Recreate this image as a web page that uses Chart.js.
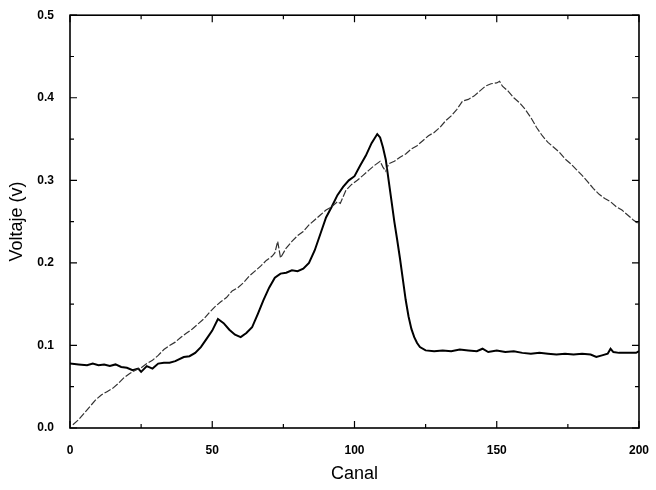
<!DOCTYPE html>
<html>
<head>
<meta charset="utf-8">
<script src="https://cdn.jsdelivr.net/npm/chart.js@4/dist/chart.umd.min.js"></script>
<style>
  html, body { margin: 0; padding: 0; background: #fff; }
  #wrap { width: 656px; height: 490px; }
</style>
</head>
<body>
<div id="wrap"><canvas id="chart-canal"></canvas></div>
<script>
// Pulse signal (thick trace)
var signalCanal = [0, 3, 6, 8, 10, 12, 14, 16, 18, 20, 22, 24, 25, 27, 29, 31, 33, 35, 37, 40,
  42, 44, 46, 48, 50, 52, 54, 56, 58, 60, 62, 64, 66, 68, 70, 72, 74, 76, 78, 80,
  82, 84, 86, 88, 90, 92, 94, 96, 98, 100, 102, 104, 106, 108, 109, 110, 111, 112, 113, 114,
  115, 116, 117, 118, 119, 120, 121, 122, 123, 125, 128, 131, 134, 137, 140, 143, 145, 147, 150, 153,
  156, 159, 162, 165, 168, 171, 174, 177, 180, 183, 185, 187, 189, 190, 191, 193, 196, 199, 200];
var signalVolt = [0.078, 0.077, 0.076, 0.078, 0.076, 0.077, 0.075, 0.077, 0.074, 0.073, 0.070, 0.072, 0.068, 0.075, 0.072, 0.078, 0.079, 0.079, 0.081, 0.086,
  0.087, 0.091, 0.098, 0.108, 0.118, 0.132, 0.127, 0.119, 0.113, 0.110, 0.115, 0.122, 0.138, 0.155, 0.170, 0.182, 0.187, 0.188, 0.191, 0.190,
  0.193, 0.200, 0.215, 0.235, 0.255, 0.268, 0.282, 0.292, 0.300, 0.305, 0.318, 0.330, 0.345, 0.356, 0.352, 0.340, 0.325, 0.300, 0.275, 0.250,
  0.228, 0.205, 0.180, 0.155, 0.135, 0.120, 0.110, 0.103, 0.098, 0.094, 0.093, 0.094, 0.093, 0.095, 0.094, 0.093, 0.096, 0.092, 0.094, 0.092,
  0.093, 0.091, 0.090, 0.091, 0.090, 0.089, 0.090, 0.089, 0.090, 0.089, 0.086, 0.088, 0.090, 0.096, 0.092, 0.091, 0.091, 0.091, 0.093];

// Ramp reference (thin trace)
var rampCanal = [1, 3, 5, 7, 9, 11, 13, 15, 17, 19, 21, 23, 25, 27, 29, 31, 33, 35, 37, 39,
  41, 43, 45, 47, 49, 51, 53, 55, 57, 59, 61, 63, 65, 67, 69, 71, 72, 73, 74, 76,
  78, 80, 82, 84, 86, 88, 90, 92, 94, 95, 97, 99, 101, 103, 105, 107, 109, 110, 111, 112,
  114, 116, 118, 120, 122, 124, 126, 128, 130, 132, 134, 136, 138, 140, 142, 144, 146, 148, 150, 151,
  152, 154, 156, 158, 160, 162, 164, 166, 168, 170, 172, 174, 176, 178, 180, 182, 184, 186, 188, 190,
  192, 194, 196, 198, 200];
var rampVolt = [0.004, 0.010, 0.018, 0.026, 0.034, 0.040, 0.044, 0.048, 0.054, 0.061, 0.066, 0.070, 0.073, 0.078, 0.082, 0.088, 0.095, 0.100, 0.104, 0.110,
  0.115, 0.120, 0.126, 0.132, 0.140, 0.147, 0.153, 0.158, 0.166, 0.170, 0.176, 0.184, 0.190, 0.196, 0.203, 0.208, 0.212, 0.226, 0.206, 0.218,
  0.226, 0.233, 0.238, 0.246, 0.252, 0.258, 0.264, 0.268, 0.274, 0.272, 0.288, 0.295, 0.300, 0.306, 0.312, 0.318, 0.323, 0.316, 0.311, 0.320,
  0.323, 0.328, 0.332, 0.338, 0.342, 0.348, 0.354, 0.358, 0.364, 0.372, 0.378, 0.386, 0.396, 0.398, 0.402, 0.408, 0.414, 0.417, 0.418, 0.420,
  0.414, 0.408, 0.400, 0.394, 0.386, 0.376, 0.364, 0.354, 0.346, 0.340, 0.334, 0.326, 0.320, 0.313, 0.306, 0.298, 0.290, 0.283, 0.278, 0.274,
  0.268, 0.264, 0.258, 0.252, 0.247];

var xTicks = [0, 50, 100, 150, 200];
var yTicks = [0.0, 0.1, 0.2, 0.3, 0.4, 0.5];

function toPoints(xs, ys) {
  return xs.map(function(x, i) { return { x: x, y: ys[i] }; });
}

// Box frame with inward ticks on all four sides
var framePlugin = {
  id: 'frame',
  afterDatasetsDraw: function(chart) {
    var ctx = chart.ctx, a = chart.chartArea;
    var xs = chart.scales.x, ys = chart.scales.y;
    ctx.save();
    ctx.strokeStyle = '#000';
    ctx.lineWidth = 1.6;
    ctx.strokeRect(a.left, a.top, a.right - a.left, a.bottom - a.top);
    ctx.lineWidth = 1.2;
    ctx.beginPath();
    for (var v = 0; v <= 200; v += 25) {
      var px = xs.getPixelForValue(v);
      var len = v % 50 === 0 ? 7 : 4;
      ctx.moveTo(px, a.bottom); ctx.lineTo(px, a.bottom - len);
      ctx.moveTo(px, a.top); ctx.lineTo(px, a.top + len);
    }
    for (var k = 0; k <= 10; k++) {
      var py = ys.getPixelForValue(k * 0.05);
      var l = k % 2 === 0 ? 7 : 4;
      ctx.moveTo(a.left, py); ctx.lineTo(a.left + l, py);
      ctx.moveTo(a.right, py); ctx.lineTo(a.right - l, py);
    }
    ctx.stroke();
    ctx.restore();
  }
};

new Chart(document.getElementById('chart-canal').getContext('2d'), {
  type: 'line',
  data: {
    datasets: [{
      data: toPoints(rampCanal, rampVolt),
      borderColor: '#333',
      borderWidth: 1.2,
      borderDash: [7, 2],
      pointRadius: 0,
      tension: 0
    }, {
      data: toPoints(signalCanal, signalVolt),
      borderColor: '#000',
      borderWidth: 2,
      pointRadius: 0,
      tension: 0
    }]
  },
  options: {
    responsive: true,
    maintainAspectRatio: false,
    animation: false,
    layout: { padding: { top: 12, right: 12, left: 0, bottom: 0 } },
    plugins: { legend: { display: false }, tooltip: { enabled: false } },
    scales: {
      x: {
        type: 'linear',
        min: 0,
        max: 200,
        afterFit: function(scale) { scale.height = 62; },
        afterBuildTicks: function(scale) {
          scale.ticks = xTicks.map(function(v) { return { value: v }; });
        },
        grid: { display: false },
        border: { display: false },
        ticks: {
          padding: 7,
          color: '#000',
          maxRotation: 0,
          font: { family: 'Liberation Sans', size: 12, weight: 'bold' }
        },
        title: {
          display: true,
          text: 'Canal',
          color: '#000',
          padding: { bottom: 5 },
          font: { family: 'Liberation Sans', size: 18 }
        }
      },
      y: {
        min: 0,
        max: 0.5,
        afterFit: function(scale) { scale.width = 70; },
        afterBuildTicks: function(scale) {
          scale.ticks = yTicks.map(function(v) { return { value: v }; });
        },
        grid: { display: false },
        border: { display: false },
        ticks: {
          padding: 8,
          color: '#000',
          font: { family: 'Liberation Sans', size: 12, weight: 'bold' },
          callback: function(v) { return Number(v).toFixed(1); }
        },
        title: {
          display: true,
          text: 'Voltaje (v)',
          color: '#000',
          padding: { top: 6 },
          font: { family: 'Liberation Sans', size: 18 }
        }
      }
    }
  },
  plugins: [framePlugin]
});
</script>
</body>
</html>
